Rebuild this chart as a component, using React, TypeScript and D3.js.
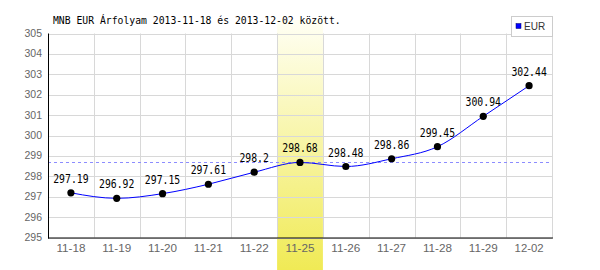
import React from "react";
import * as d3 from "d3";

const categories = ["11-18", "11-19", "11-20", "11-21", "11-22", "11-25", "11-26", "11-27", "11-28", "11-29", "12-02"];
const values = [297.19, 296.92, 297.15, 297.61, 298.2, 298.68, 298.48, 298.86, 299.45, 300.94, 302.44];
const valueLabels = ["297.19", "296.92", "297.15", "297.61", "298.2", "298.68", "298.48", "298.86", "299.45", "300.94", "302.44"];
const yTicks = [295, 296, 297, 298, 299, 300, 301, 302, 303, 304, 305];
const highlighted = "11-25";
const seriesName = "EUR";
const title = "MNB EUR Árfolyam 2013-11-18 és 2013-12-02 között.";

export default function App() {
  const W = 600, H = 270;
  const left = 48, right = 552, top = 33.5, bottom = 237.5;
  const x = d3.scaleBand<string>().domain(categories).range([left, right]);
  const y = d3.scaleLinear().domain([295, 305]).range([bottom, top]);
  const cx = (c: string) => (x(c) as number) + x.bandwidth() / 2;
  const avg = d3.mean(values) as number;
  const line = d3.line<number>().x((_, i) => cx(categories[i])).y((v) => y(v)).curve(d3.curveMonotoneX);
  const mono = "'DejaVu Sans Mono', monospace";
  const sans = "'Liberation Sans', Arial, sans-serif";
  const charW = 5.9;
  return (
    <svg width={W} height={H} style={{ position: "absolute", left: 0, top: 0 }}>
      <defs>
        <linearGradient id="hl" x1="0" y1="0" x2="0" y2="1">
          <stop offset="0%" stopColor="#fffff4" />
          <stop offset="100%" stopColor="#f0ea55" />
        </linearGradient>
      </defs>
      <rect width={W} height={H} fill="#fff" />
      <rect x={x(highlighted)} y={20} width={x.bandwidth()} height={H - 20} fill="url(#hl)" />
      {yTicks.map((t) => (
        <line key={"h" + t} x1={left} x2={right} y1={Math.round(y(t)) + 0.5} y2={Math.round(y(t)) + 0.5} stroke="#d8d8d8" />
      ))}
      {categories.slice(1).map((c) => (
        <line key={"v" + c} x1={Math.round(x(c) as number) + 0.5} x2={Math.round(x(c) as number) + 0.5} y1={top} y2={bottom} stroke="#d8d8d8" />
      ))}
      <line x1={right + 0.5} x2={right + 0.5} y1={top} y2={bottom} stroke="#d8d8d8" />
      <line x1={left} x2={right} y1={Math.round(y(avg)) + 0.5} y2={Math.round(y(avg)) + 0.5} stroke="#8c8cff" strokeDasharray="3,3" />
      <line x1={left + 0.5} x2={left + 0.5} y1={top} y2={bottom + 1} stroke="#000" />
      <line x1={left} x2={right + 1} y1={bottom + 0.5} y2={bottom + 0.5} stroke="#000" />
      {yTicks.map((t) => (
        <text key={"yl" + t} x={left - 6} y={y(t) + 3.5} textAnchor="end" fontFamily={sans} fontSize={10.5} fill="#666">{t}</text>
      ))}
      {categories.map((c) => (
        <text key={"xl" + c} x={cx(c)} y={252} textAnchor="middle" fontFamily={sans} fontSize={11} fill="#666" textLength={29} lengthAdjust="spacingAndGlyphs">{c}</text>
      ))}
      <path d={line(values) as string} fill="none" stroke="#0000ff" strokeWidth={1} />
      {values.map((v, i) => (
        <circle key={"p" + i} cx={cx(categories[i])} cy={y(v)} r={3.6} fill="#000" />
      ))}
      {values.map((v, i) => (
        <text key={"vl" + i} x={cx(categories[i])} y={y(v) - 10} textAnchor="middle" fontFamily={mono} fontSize={11.5}
          textLength={valueLabels[i].length * charW} lengthAdjust="spacingAndGlyphs" fill="#000">{valueLabels[i]}</text>
      ))}
      <text x={53} y={24} fontFamily={mono} fontSize={11} textLength={title.length * 5.87} lengthAdjust="spacingAndGlyphs" fill="#000">{title}</text>
      <rect x={511.5} y={16.5} width={41} height={20} fill="#fff" stroke="#ccc" />
      <rect x={516} y={23.5} width={5} height={5} fill="#0000ff" stroke="#000066" strokeWidth={0.5} />
      <text x={524} y={30} fontFamily={sans} fontSize={10} fill="#333">{seriesName}</text>
    </svg>
  );
}
